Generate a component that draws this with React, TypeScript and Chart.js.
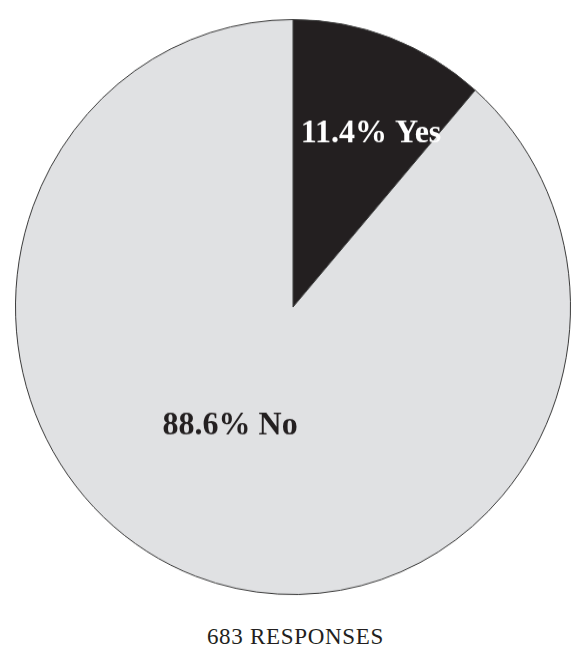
import React, { useEffect, useRef } from "react";
import { Chart, registerables } from "chart.js";

Chart.register(...registerables);

const categories: string[] = ["Yes", "No"];
const percentages: number[] = [11.4, 88.6];
const totalResponses = 683;

const sliceColors = ["#231f20", "#e0e1e3"];
const labelColors = ["#ffffff", "#231f20"];
// where, along each slice (0..1) and how far out (fraction of radius), its label sits
const labelAlong = [0.61, 0.526];
const labelDist = [0.665, 0.47];

const labelPlugin = {
  id: "sliceLabels",
  afterDatasetsDraw(chart: any) {
    const meta = chart.getDatasetMeta(0);
    const ctx = chart.ctx;
    ctx.save();
    ctx.font = 'bold 32px "Liberation Serif", "Times New Roman", serif';
    ctx.textAlign = "center";
    ctx.textBaseline = "middle";
    meta.data.forEach((arc: any, i: number) => {
      const { x, y, startAngle, endAngle, outerRadius } = arc.getProps(
        ["x", "y", "startAngle", "endAngle", "outerRadius"],
        true
      );
      const a = startAngle + (endAngle - startAngle) * labelAlong[i];
      const r = outerRadius * labelDist[i];
      ctx.fillStyle = labelColors[i];
      ctx.fillText(
        `${percentages[i].toFixed(1)}% ${categories[i]}`,
        x + Math.cos(a) * r,
        y + Math.sin(a) * r
      );
    });
    ctx.restore();
  },
};

export default function App() {
  const ref = useRef<HTMLCanvasElement | null>(null);

  useEffect(() => {
    if (!ref.current) return;
    const chart = new Chart(ref.current, {
      type: "pie",
      data: {
        labels: categories,
        datasets: [
          {
            data: percentages,
            backgroundColor: sliceColors,
            borderColor: "#3a3a3a",
            borderWidth: 1,
          },
        ],
      },
      options: {
        animation: false,
        responsive: false,
        devicePixelRatio: 1,
        layout: { padding: { left: 15, right: 1, top: 29, bottom: 15 } },
        plugins: {
          legend: { display: false },
          tooltip: { enabled: false },
        },
      },
      plugins: [labelPlugin],
    });
    return () => chart.destroy();
  }, []);

  return (
    <div
      style={{
        position: "absolute",
        left: 0,
        top: 0,
        width: 572,
        height: 649,
        background: "#ffffff",
        overflow: "hidden",
      }}
    >
      <canvas
        ref={ref}
        width={572}
        height={600}
        style={{
          position: "absolute",
          left: 0,
          top: 0,
          width: 572,
          height: 600,
          transform: "scaleY(1.036)",
          transformOrigin: "293px 307px",
        }}
      />
      <div
        style={{
          position: "absolute",
          left: 0,
          top: 625,
          width: 591,
          textAlign: "center",
          fontFamily: '"Liberation Serif", "Times New Roman", serif',
          fontSize: 23,
          lineHeight: "23px",
          letterSpacing: "0.7px",
          color: "#231f20",
        }}
      >
        {`${totalResponses} RESPONSES`}
      </div>
    </div>
  );
}
